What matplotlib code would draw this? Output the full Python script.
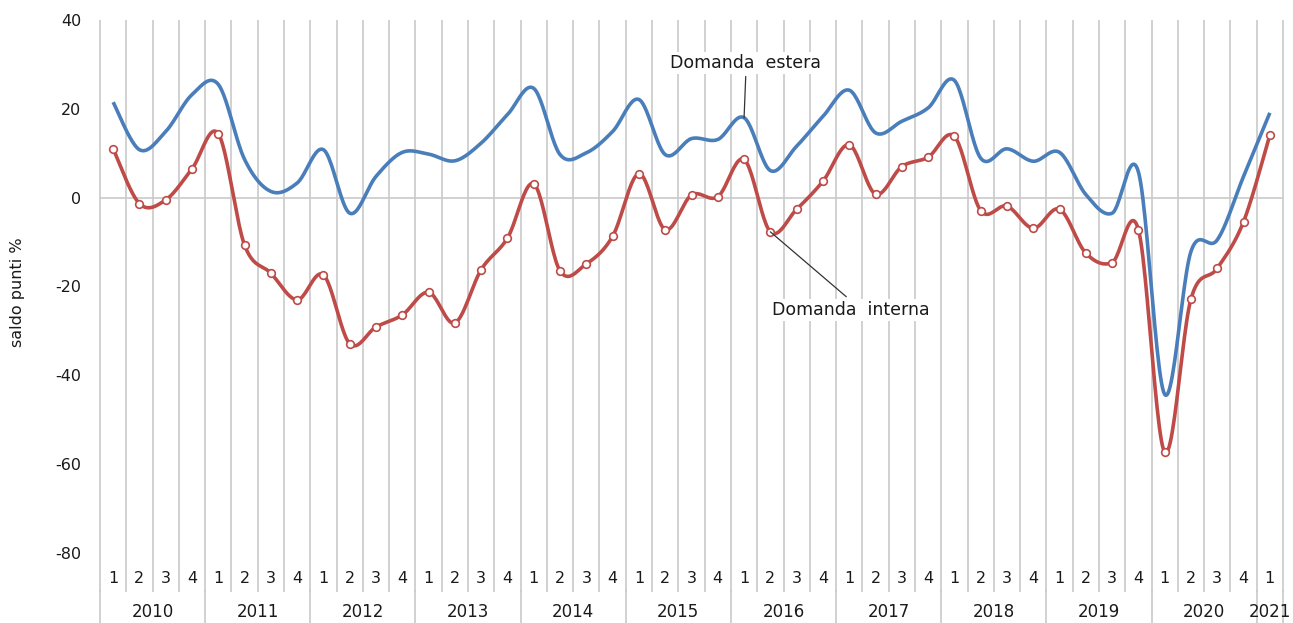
import numpy as np
import matplotlib.pyplot as plt

plt.rcParams['axes.unicode_minus'] = False

# quarterly balances, 2010Q1 .. 2021Q1
years = ['2010', '2011', '2012', '2013', '2014', '2015', '2016',
         '2017', '2018', '2019', '2020', '2021']
quarters = ['1', '2', '3', '4'] * 11 + ['1']

domanda_estera = [21.5, 10.8, 14.9, 23.2, 25.5, 8.6, 1.4, 3.3, 10.8, -3.5,
                  4.8, 10.2, 9.8, 8.3, 12.3, 18.7, 24.6, 9.7, 10.1, 14.9,
                  22.1, 9.7, 13.3, 13.1, 18.0, 6.1, 11.6, 18.3, 24.2, 14.6,
                  17.2, 20.2, 26.4, 8.9, 11.0, 8.2, 10.2, 0.7, -3.5, 5.8,
                  -44.3, -12.1, -9.5, 4.8, 19.1]
domanda_interna = [11.0, -1.35, -0.5, 6.5, 14.4, -10.7, -17.0, -23.0, -17.4, -32.9,
                   -29.1, -26.4, -21.3, -28.2, -16.2, -9.1, 3.1, -16.5, -14.9, -8.7,
                   5.4, -7.2, 0.6, 0.2, 8.6, -7.7, -2.6, 3.7, 11.9, 0.8,
                   7.0, 9.1, 13.8, -2.9, -1.9, -6.9, -2.6, -12.5, -14.6, -7.2,
                   -57.3, -22.8, -15.9, -5.4, 14.1]

BLUE = '#4a7ebb'
RED = '#be4b48'
GRID = '#cacaca'
TXT = '#1a1a1a'


def smooth(xs, ys, n=24):
    """Excel-style smoothed line (Bezier through every point)."""
    p = np.column_stack([xs, ys]).astype(float)
    ext = np.vstack([p[0], p, p[-1]])
    out = []
    for i in range(len(p) - 1):
        p0, p1, p2, p3 = ext[i], ext[i + 1], ext[i + 2], ext[i + 3]
        c1 = p1 + (p2 - p0) / 6
        c2 = p2 - (p3 - p1) / 6
        t = np.linspace(0, 1, n, endpoint=(i == len(p) - 2))[:, None]
        out.append((1 - t) ** 3 * p1 + 3 * (1 - t) ** 2 * t * c1
                   + 3 * (1 - t) * t ** 2 * c2 + t ** 3 * p2)
    arr = np.vstack(out)
    return arr[:, 0], arr[:, 1]


fig = plt.figure(figsize=(12.93, 6.23), dpi=100)
ax = fig.add_axes([100 / 1293, 70 / 623, 1183 / 1293, 533 / 623])

n = len(quarters)
x = np.arange(n) + 0.5
ax.set_xlim(0, n)
ax.set_ylim(-80, 40)

for s in ax.spines.values():
    s.set_visible(False)

# category separators, continued down through the label area
xt = ax.get_xaxis_transform()
ax.vlines(np.arange(n + 1), -0.073, 1, transform=xt, color=GRID, lw=1.2,
          clip_on=False, zorder=0)
year_bounds = list(range(0, n, 4)) + [n]
ax.vlines(year_bounds, -0.135, -0.07, transform=xt, color=GRID, lw=1.2,
          clip_on=False, zorder=0)
ax.axhline(0, color=GRID, lw=1.2, zorder=0)

sx, sy = smooth(x, domanda_estera)
ax.plot(sx, sy, color=BLUE, lw=2.6, solid_capstyle='butt', zorder=3)
sx, sy = smooth(x, domanda_interna)
ax.plot(sx, sy, color=RED, lw=2.6, solid_capstyle='butt', zorder=3)
ax.plot(x, domanda_interna, ls='none', marker='o', ms=5.5, mfc='white',
        mec=RED, mew=1.2, zorder=4)

ax.set_xticks([])
ax.set_yticks(range(-80, 41, 20))
ax.tick_params(axis='y', length=0, pad=13.5, labelsize=11.5, labelcolor=TXT)

for xi, q in zip(x, quarters):
    ax.text(xi, -0.047, q, transform=xt, ha='center', va='center',
            fontsize=11.5, color=TXT)
for k, yr in enumerate(years):
    start = 4 * k
    stop = min(start + 4, n)
    ax.text((start + stop) / 2, -0.111, yr, transform=xt, ha='center',
            va='center', fontsize=12, color=TXT)

fig.text(18 / 1293, 1 - 292 / 623, 'saldo punti %', rotation=90,
         ha='center', va='center', fontsize=11.5, color=TXT)

# series labels with leader lines
box = dict(facecolor='white', edgecolor='none', pad=1.5)
ax.annotate('Domanda  estera', xy=(24.5, domanda_estera[24]),
            xytext=(24.57, 30.4), ha='center', va='center', fontsize=12.5,
            color=TXT, bbox=box, zorder=5,
            arrowprops=dict(arrowstyle='-', color='#333333', lw=0.9,
                            relpos=(0.5, 0), shrinkA=2, shrinkB=0))
ax.annotate('Domanda  interna', xy=(25.5, domanda_interna[25]),
            xytext=(28.56, -25.2), ha='center', va='center', fontsize=12.5,
            color=TXT, bbox=box, zorder=5,
            arrowprops=dict(arrowstyle='-', color='#333333', lw=0.9,
                            relpos=(0.5, 1), shrinkA=2, shrinkB=0))

fig.savefig('out.png', dpi=100)
